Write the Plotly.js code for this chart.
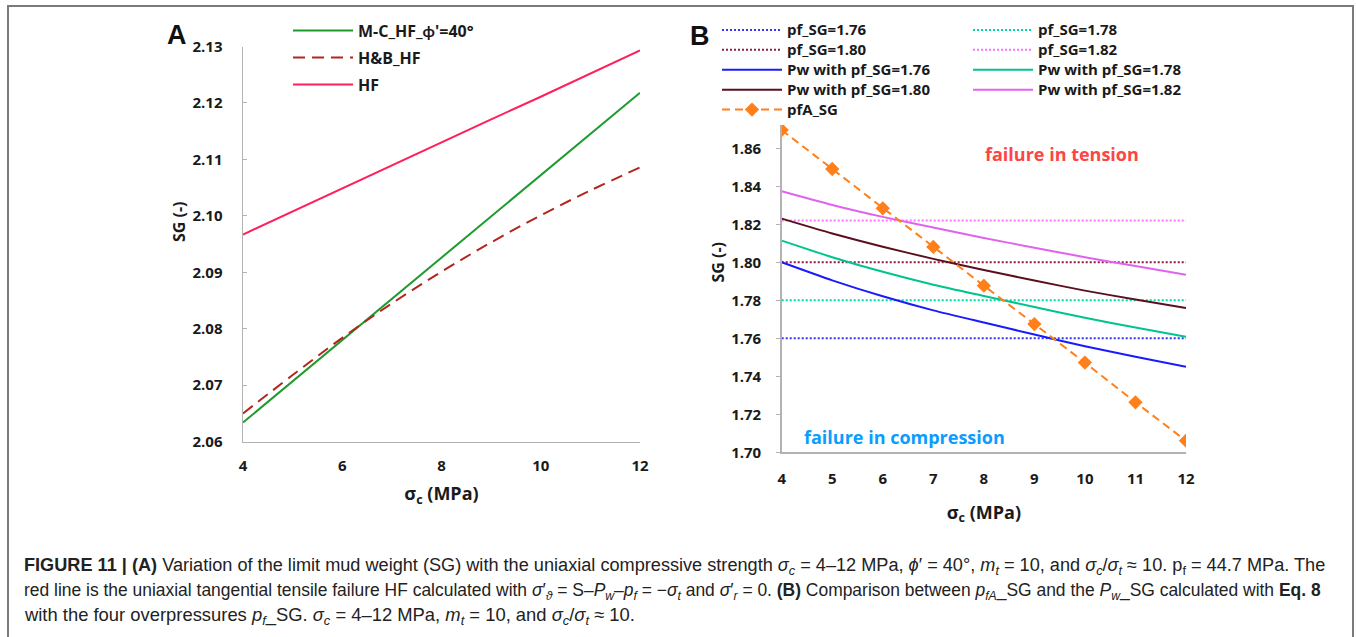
<!DOCTYPE html>
<html>
<head>
<meta charset="utf-8">
<script src="https://cdn.plot.ly/plotly-3.0.1.min.js"></script>
<style>html,body{margin:0;padding:0;background:#fff;}#chart{width:1356px;height:637px;}</style>
</head>
<body>
<div id="chart"></div>
<script>
// ---------- Data ----------
// Panel A
const sigmaA = [4, 5, 6, 7, 8, 9, 10, 11, 12];
const mcHF   = [2.0634, 2.0707, 2.0780, 2.0853, 2.0926, 2.0999, 2.1072, 2.1145, 2.1218];
const hbHF   = [2.0650, 2.0718, 2.0784, 2.0845, 2.0901, 2.0953, 2.1001, 2.1045, 2.1086];
const hfA    = [2.0967, 2.1008, 2.1048, 2.1089, 2.1130, 2.1171, 2.1211, 2.1252, 2.1293];
const namesA = ["M-C_HF_\u03d5'=40\u00b0", "H&B_HF", "HF"];
const ticksAx = [4, 6, 8, 10, 12];
const ticksAy = [2.06, 2.07, 2.08, 2.09, 2.10, 2.11, 2.12, 2.13];

// Panel B
const sigmaB = [4, 5, 6, 7, 8, 9, 10, 11, 12];
const pfLevels = [1.76, 1.78, 1.80, 1.822];
const pfNames  = ["pf_SG=1.76", "pf_SG=1.78", "pf_SG=1.80", "pf_SG=1.82"];
const pw176 = [1.8000, 1.7905, 1.7821, 1.7747, 1.7683, 1.7620, 1.7558, 1.7503, 1.7450];
const pw178 = [1.8114, 1.8027, 1.7950, 1.7882, 1.7823, 1.7765, 1.7708, 1.7657, 1.7608];
const pw180 = [1.8230, 1.8152, 1.8082, 1.8018, 1.7960, 1.7904, 1.7851, 1.7804, 1.7759];
const pw182 = [1.8374, 1.8302, 1.8239, 1.8183, 1.8128, 1.8077, 1.8027, 1.7980, 1.7935];
const pwNames = ["Pw with pf_SG=1.76", "Pw with pf_SG=1.78", "Pw with pf_SG=1.80", "Pw with pf_SG=1.82"];
const pfA = [1.8696, 1.8491, 1.8284, 1.8081, 1.7877, 1.7675, 1.7472, 1.7263, 1.7061];
const pfAName = "pfA_SG";
const ticksBx = [4, 5, 6, 7, 8, 9, 10, 11, 12];
const ticksBy = [1.70, 1.72, 1.74, 1.76, 1.78, 1.80, 1.82, 1.84, 1.86];

// ---------- Styling ----------
const W = 1356, H = 637;
const px = v => v / W;            // page pixel -> paper (margins are 0)
const py = v => 1 - v / H;
const FF = "Open Sans, Lato, sans-serif";
const TXT = "#1a1a1a";
const AX = "#b3b3b3";
const bigLeg = s => '<span style="font-size:15px">' + s + '</span>';

const pfColors = ["#3535ff", "#00dba0", "#8a1e3e", "#ff72ff"];
const pwColors = ["#1a1aff", "#00c48e", "#5a0f1e", "#e262f0"];
const pfLegend = ["legend2", "legend3", "legend2", "legend3"];

const traces = [];
// Panel A
traces.push({x: sigmaA, y: mcHF, name: namesA[0], mode: "lines", xaxis: "x", yaxis: "y",
  line: {color: "#1f9a2e", width: 2}, legend: "legend", legendgroup: "a1"});
traces.push({x: sigmaA, y: hbHF, name: namesA[1], mode: "lines", xaxis: "x", yaxis: "y",
  line: {color: "#b3261e", width: 2, dash: "12px,7px", shape: "spline"}, legend: "legend", legendgroup: "a2"});
traces.push({x: sigmaA, y: hfA, name: namesA[2], mode: "lines", xaxis: "x", yaxis: "y",
  line: {color: "#ff1f5a", width: 2}, legend: "legend", legendgroup: "a3"});

// Panel B : horizontal overpressure levels
pfLevels.forEach((lv, i) => {
  traces.push({x: [sigmaB[0], sigmaB[sigmaB.length - 1]], y: [lv, lv], name: bigLeg(pfNames[i]), mode: "lines",
    xaxis: "x2", yaxis: "y2", line: {color: pfColors[i], width: 2, dash: "2px,2px"}, legend: pfLegend[i]});
});
[pw176, pw178, pw180, pw182].forEach((arr, i) => {
  traces.push({x: sigmaB, y: arr, name: bigLeg(pwNames[i]), mode: "lines", xaxis: "x2", yaxis: "y2",
    line: {color: pwColors[i], width: 2, shape: "spline", smoothing: 0.6}, legend: pfLegend[i]});
});
traces.push({x: sigmaB, y: pfA, name: bigLeg(pfAName), mode: "lines+markers", xaxis: "x2", yaxis: "y2",
  line: {color: "#ff7f1a", width: 2, dash: "8px,5px"},
  marker: {symbol: "diamond", size: 11, color: "#ff7f1a"}, legend: "legend2"});

const tickFont = {family: FF, size: 15, color: TXT, weight: "bold"};
const legFont = {family: FF, size: 13, color: TXT, weight: "bold"};
const titleFont = {family: FF, size: 18, color: TXT, weight: "bold"};

const cap1 = "<b>FIGURE 11 | (A)</b> Variation of the limit mud weight (SG) with the uniaxial compressive strength <i>\u03c3<sub>c</sub></i> = 4\u201312 MPa, <i>\u03d5</i>\u2032 = 40\u00b0, <i>m<sub>t</sub></i> = 10, and <i>\u03c3<sub>c</sub></i>/<i>\u03c3<sub>t</sub></i> \u2248 10. p<sub>f</sub> = 44.7 MPa. The";
const cap2 = "red line is the uniaxial tangential tensile failure HF calculated with <i>\u03c3</i>\u2032<sub><i>\u03d1</i></sub> = S\u2013<i>P<sub>w</sub></i>\u2013<i>p<sub>f</sub></i> = \u2212<i>\u03c3<sub>t</sub></i> and <i>\u03c3</i>\u2032<sub><i>r</i></sub> = 0. <b>(B)</b> Comparison between <i>p<sub>fA</sub></i>_SG and the <i>P<sub>w</sub></i>_SG calculated with <b>Eq. 8</b>";
const cap3 = "with the four overpressures <i>p<sub>f</sub></i>_SG. <i>\u03c3<sub>c</sub></i> = 4\u201312 MPa, <i>m<sub>t</sub></i> = 10, and <i>\u03c3<sub>c</sub></i>/<i>\u03c3<sub>t</sub></i> \u2248 10.";
const capFam = "Liberation Sans, Arial, sans-serif";

const ann = (text, x, y, font, extra) => Object.assign({text: text, xref: "paper", yref: "paper",
  x: px(x), y: py(y), xanchor: "center", yanchor: "middle", showarrow: false, font: font}, extra || {});

const layout = {
  width: W, height: H,
  margin: {l: 0, r: 0, t: 0, b: 0},
  paper_bgcolor: "#fff", plot_bgcolor: "rgba(0,0,0,0)",
  font: {family: FF, color: TXT},
  xaxis: {domain: [px(243), px(640)], range: [4, 12], tickvals: ticksAx, ticks: "",
    showline: true, linecolor: AX, linewidth: 1.5, showgrid: false, zeroline: false,
    tickfont: tickFont, ticklabelstandoff: 10, anchor: "y", automargin: false,
    title: {text: "\u03c3<sub>c</sub> (MPa)", font: titleFont, standoff: 13}},
  yaxis: {domain: [py(441.7), py(46.5)], range: [2.06, 2.13], tickvals: ticksAy, tickformat: ".2f",
    ticks: "inside", ticklen: 4, tickcolor: AX, showline: true, linecolor: AX, linewidth: 1.5,
    showgrid: false, zeroline: false, tickfont: tickFont, ticklabelstandoff: 16, anchor: "x", automargin: false},
  xaxis2: {domain: [px(781.7), px(1186)], range: [4, 12], tickvals: ticksBx, ticks: "",
    showline: true, linecolor: AX, linewidth: 1.5, showgrid: false, zeroline: false,
    tickfont: tickFont, ticklabelstandoff: 12, anchor: "y2", automargin: false,
    title: {text: "\u03c3<sub>c</sub> (MPa)", font: titleFont, standoff: 19}},
  yaxis2: {domain: [py(452.3), py(72.3)], range: [1.70, 1.90], tickvals: ticksBy, tickformat: ".2f",
    ticks: "outside", ticklen: 4, tickcolor: AX, showline: true, linecolor: AX, linewidth: 1.5,
    showgrid: false, zeroline: false, tickfont: tickFont, ticklabelstandoff: 12, anchor: "x2", automargin: false,
    title: {text: "SG (-)", font: {family: FF, size: 16, color: TXT, weight: "bold"}, standoff: 2}},
  legend: {x: px(288), y: py(13.7), xanchor: "left", yanchor: "top", bgcolor: "rgba(255,255,255,0)",
    font: {family: FF, size: 16, color: TXT, weight: "bold"}, traceorder: "grouped", tracegroupgap: 3.2,
    itemwidth: 60},
  legend2: {x: px(717), y: py(15), xanchor: "left", yanchor: "top", bgcolor: "#fff",
    font: legFont, traceorder: "normal", itemwidth: 60},
  legend3: {x: px(968), y: py(15), xanchor: "left", yanchor: "top", bgcolor: "rgba(255,255,255,0)",
    font: legFont, traceorder: "normal", itemwidth: 60},
  shapes: [
    {type: "rect", xref: "paper", yref: "paper", x0: px(8), x1: px(1353), y0: -0.2, y1: py(6),
     line: {color: "#7a7a7a", width: 2}, fillcolor: "rgba(0,0,0,0)", layer: "below"}
  ],
  annotations: [
    ann("<b>A</b>", 177, 35, {family: capFam, size: 27, color: "#111"}),
    ann("<b>B</b>", 700, 36, {family: capFam, size: 27, color: "#111"}),
    ann("<b>SG (-)</b>", 179, 222, {family: FF, size: 16, color: TXT}, {textangle: -90}),
    ann("<b>failure in tension</b>", 1062, 154, {family: FF, size: 18, color: "#ff4444"}),
    ann("<b>failure in compression</b>", 905, 437, {family: FF, size: 18, color: "#0a9cff"}),
    ann(cap1, 22, 566, {family: capFam, size: 18.15, color: "#222"}, {xanchor: "left"}),
    ann(cap2, 22, 591, {family: capFam, size: 17.45, color: "#222"}, {xanchor: "left"}),
    ann(cap3, 22, 616, {family: capFam, size: 18.4, color: "#222"}, {xanchor: "left"})
  ]
};

Plotly.newPlot("chart", traces, layout, {displayModeBar: false, staticPlot: true});
</script>
</body>
</html>
